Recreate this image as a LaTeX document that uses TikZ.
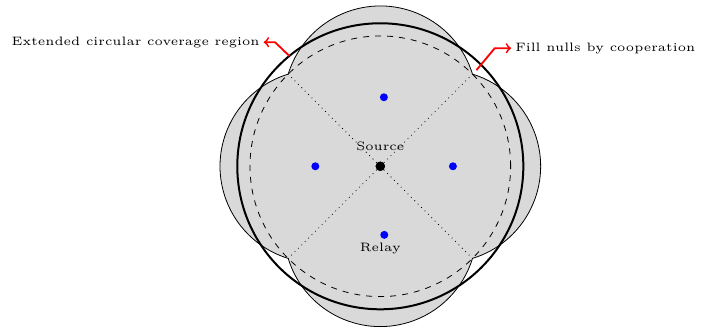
\documentclass[tikz,border=0pt]{standalone}
\usetikzlibrary{calc,positioning}
\definecolor{zonegray}{HTML}{D9D9D9}
\definecolor{relayblue}{HTML}{0000FF}
\definecolor{calloutred}{HTML}{FF0000}

\begin{document}
\begin{tikzpicture}[
		font=\tiny,
		bulge/.style={fill=zonegray, draw=black, line width=0.4pt},
		coverage/.style={draw=black, line width=1pt},
		basering/.style={draw=black, dashed, line width=0.4pt},
		divider/.style={draw=black, dotted, line width=0.4pt},
		relay/.style={circle, fill=relayblue, inner sep=0pt, minimum size=0.14cm},
		srcdot/.style={circle, fill=black, inner sep=0pt, minimum size=0.165cm},
		callout/.style={draw=calloutred, line width=0.9pt, ->},
		note/.style={font=\tiny, text=black, scale=1.22, inner sep=1.5pt},
	]

	% picture frame
	\useasboundingbox (-6.683,-2.895) rectangle (5.846,2.922);

	% radii
	\def\rdash{2.29}
	\def\rthick{2.513}
	\def\rbulge{1.693}

	% union of the four relay lobes
	\path[bulge] (45:\rdash)
		arc[start angle=17, end angle=163, radius=\rbulge]
		arc[start angle=107, end angle=253, radius=\rbulge]
		arc[start angle=197, end angle=343, radius=\rbulge]
		arc[start angle=287, end angle=433, radius=\rbulge]
		-- cycle;

	% source
	\node[srcdot] (src) at (0,0) {};

	% quadrant dividers
	\foreach \a in {45,135,225,315} {
		\coordinate (corner\a) at (\a:\rdash);
		\draw[divider] (src) -- (corner\a);
	}

	% base and extended coverage
	\draw[basering] (src) circle[radius=\rdash];
	\draw[coverage] (src) circle[radius=\rthick];

	\node[srcdot] at (src) {};

	% relays
	\node[relay] (relayN) at (0.063, 1.213) {};
	\node[relay] (relayW) at (-1.142, 0) {};
	\node[relay] (relayE) at (1.276, 0) {};
	\node[relay] (relayS) at (0.070, -1.205) {};

	% labels
	\node[note] (srclabel) at (0, 0.351) {Source};
	\node[note] (relaylabel) at (0, -1.448) {Relay};

	% callouts
	\node[note, anchor=east] (extlabel) at (-2.05, 2.18) {Extended circular coverage region};
	\node[note, anchor=west] (nulllabel) at (2.30, 2.074) {Fill nulls by cooperation};

	\coordinate (extpt) at (129.5:\rthick);
	\coordinate (nullpt) at (45:2.39);

	\draw[callout] (extpt) -- ($(extlabel.east)+(0.20,0)$) -- (extlabel.east);
	\draw[callout] (nullpt) -- ($(nulllabel.west)+(-0.29,0)$) -- (nulllabel.west);

\end{tikzpicture}
\end{document}
